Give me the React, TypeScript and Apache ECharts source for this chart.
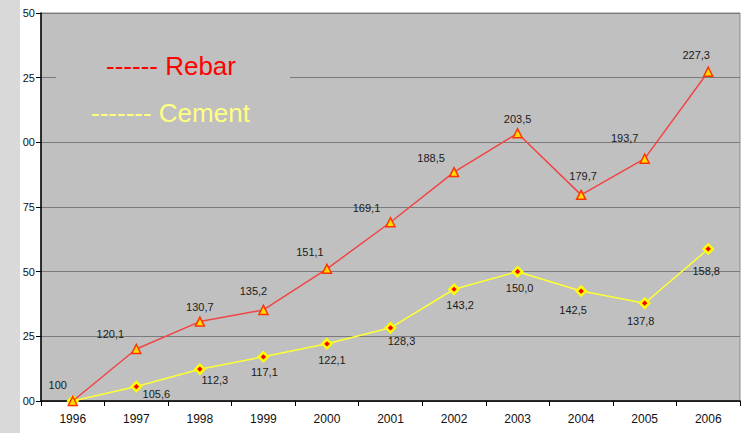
import React, { useEffect, useRef } from "react";
import * as echarts from "echarts";

const years = ["1996", "1997", "1998", "1999", "2000", "2001", "2002", "2003", "2004", "2005", "2006"];
const rebar = [100, 120.1, 130.7, 135.2, 151.1, 169.1, 188.5, 203.5, 179.7, 193.7, 227.3];
const cement = [100, 105.6, 112.3, 117.1, 122.1, 128.3, 143.2, 150.0, 142.5, 137.8, 158.8];
// label offsets (pixels) relative to each point
const rebarLabelOffsets = [[-15, -16], [-26, -15], [0, -15], [-10, -19], [-17, -17], [-24, -14], [-23, -14], [0, -14], [2, -19], [-20, -21], [-12, -17]];
const cementLabelOffsets = [[0, 0], [20, 7], [15, 11], [1, 15], [5, 16], [11, 13], [6, 16], [2, 16], [-8, 19], [-4, 18], [-2, 22]];

const fmt = (v: number) => (v === 100 ? "100" : v.toFixed(1).replace(".", ","));

export default function App() {
  const ref = useRef<HTMLDivElement>(null);
  useEffect(() => {
    if (!ref.current) return;
    const chart = echarts.init(ref.current, undefined, { renderer: "svg" });
    const font = "'Liberation Sans', Arial, sans-serif";
    const labelBase = {
      show: true,
      position: "inside" as const,
      color: "#1a1a1a",
      fontSize: 11,
      fontFamily: font,
      align: "center" as const,
      verticalAlign: "middle" as const,
    };
    chart.setOption({
      animation: false,
      backgroundColor: "#ffffff",
      grid: {
        left: 41,
        right: 3,
        top: 13,
        bottom: 32,
        show: true,
        backgroundColor: "#c0c0c0",
        borderColor: "#8a8a8a",
        borderWidth: 1,
      },
      xAxis: {
        type: "category",
        data: years,
        boundaryGap: true,
        axisLine: { show: true, lineStyle: { color: "#000", width: 1.5 } },
        axisTick: { show: true, length: 5, lineStyle: { color: "#000" } },
        axisLabel: { color: "#111", fontSize: 12, fontFamily: font, margin: 12 },
        splitLine: { show: false },
      },
      yAxis: {
        type: "value",
        min: 100,
        max: 250,
        interval: 25,
        axisLine: { show: true, lineStyle: { color: "#000", width: 1.5 } },
        axisTick: { show: true, length: 5, lineStyle: { color: "#000" } },
        axisLabel: {
          color: "#111",
          fontSize: 11,
          fontFamily: font,
          margin: 6,
          formatter: (v: number) => String(v).slice(-2),
        },
        splitLine: { show: true, lineStyle: { color: "#7a7a7a", width: 1 } },
      },
      graphic: [
        { type: "rect", left: 0, top: 0, shape: { width: 20, height: 433 }, style: { fill: "#d9d9d9" }, z: 100 },
        { type: "rect", shape: { x: 56, y: 48, width: 234, height: 86 }, style: { fill: "#c0c0c0" }, z: 50 },
        {
          type: "text",
          x: 106,
          y: 66,
          style: { text: "------ Rebar", fill: "#ff0000", fontSize: 26, fontFamily: font, verticalAlign: "middle" },
          z: 60,
        },
        {
          type: "text",
          x: 91,
          y: 113,
          style: { text: "------- Cement", fill: "#ffff80", fontSize: 26, fontFamily: font, verticalAlign: "middle" },
          z: 60,
        },
      ],
      series: [
        {
          name: "Cement",
          type: "line",
          z: 3,
          data: cement.map((v, i) => ({
            value: v,
            label: i === 0 ? { show: false } : { ...labelBase, offset: cementLabelOffsets[i] },
          })),
          symbol: "diamond",
          symbolSize: 9,
          lineStyle: { color: "#ffff33", width: 1.5 },
          itemStyle: { color: "#ff0000", borderColor: "#ffff00", borderWidth: 2.5 },
          label: { ...labelBase, formatter: (p: any) => fmt(p.value) },
        },
        {
          name: "Rebar",
          type: "line",
          z: 4,
          data: rebar.map((v, i) => ({
            value: v,
            label: { ...labelBase, offset: rebarLabelOffsets[i] },
          })),
          symbol: "triangle",
          symbolSize: 9,
          lineStyle: { color: "#f04545", width: 1.5 },
          itemStyle: { color: "#ffdd00", borderColor: "#ff3300", borderWidth: 1.5 },
          label: { ...labelBase, formatter: (p: any) => fmt(p.value) },
        },
      ],
    });
    return () => chart.dispose();
  }, []);
  return <div ref={ref} style={{ position: "absolute", left: 0, top: 0, width: 743, height: 433 }} />;
}
